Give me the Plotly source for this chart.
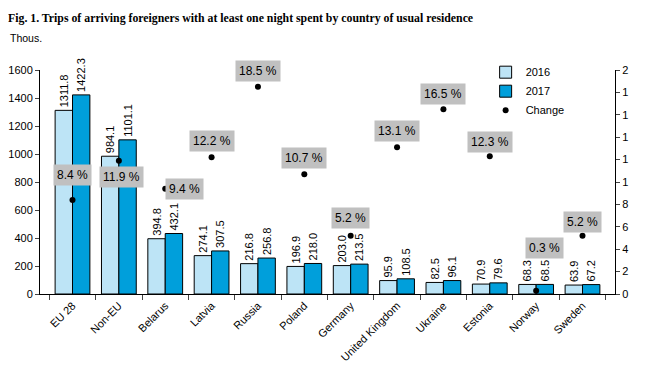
import plotly.graph_objects as go

countries = ["EU 28", "Non-EU", "Belarus", "Latvia", "Russia", "Poland", "Germany",
             "United Kingdom", "Ukraine", "Estonia", "Norway", "Sweden"]
trips_2016 = [1311.8, 984.1, 394.8, 274.1, 216.8, 196.9, 203.0, 95.9, 82.5, 70.9, 68.3, 63.9]
trips_2017 = [1422.3, 1101.1, 432.1, 307.5, 256.8, 218.0, 213.5, 108.5, 96.1, 79.6, 68.5, 67.2]
change_pct = [8.4, 11.9, 9.4, 12.2, 18.5, 10.7, 5.2, 13.1, 16.5, 12.3, 0.3, 5.2]
right_ticks = [0, 2, 4, 6, 8, 10, 12, 14, 16, 18, 20]
right_tick_text = ["0", "2", "4", "6", "8", "1", "1", "1", "1", "1", "2"]

# label offsets (px) for change annotations
label_dx = [0, 3, 19, 0, 0, 0, 0, 0, 0, 0, 8, 0]
label_dy = [25, -16, 0, 16, 16, 16, 18, 16, 15, 14, 43, 14]

FONT = "Liberation Sans, Arial, sans-serif"

fig = go.Figure()
fig.add_trace(go.Bar(
    x=countries, y=trips_2016, name="2016",
    marker=dict(color="#BDE4F6", line=dict(color="black", width=1)),
    text=[f"{v:.1f}" for v in trips_2016], textposition="outside", textangle=-90,
    constraintext="none",
    textfont=dict(family=FONT, size=11, color="black"), cliponaxis=False,
))
fig.add_trace(go.Bar(
    x=countries, y=trips_2017, name="2017",
    marker=dict(color="#009FDB", line=dict(color="black", width=1)),
    text=[f"{v:.1f}" for v in trips_2017], textposition="outside", textangle=-90,
    constraintext="none",
    textfont=dict(family=FONT, size=11, color="black"), cliponaxis=False,
))
fig.add_trace(go.Scatter(
    x=countries, y=change_pct, name="Change", mode="markers", yaxis="y2",
    marker=dict(color="black", size=6), cliponaxis=False,
))

for c, v, dx, dy in zip(countries, change_pct, label_dx, label_dy):
    fig.add_annotation(
        x=c, y=v, xref="x", yref="y2", text=f"{v} %", showarrow=False,
        xshift=dx, yshift=dy, bgcolor="#C0C0C0", borderpad=3,
        font=dict(family=FONT, size=12, color="black"),
    )

fig.add_annotation(
    x=-0.056, y=1.143, xref="paper", yref="paper", xanchor="left", yanchor="middle",
    text="Thous.", showarrow=False, font=dict(family=FONT, size=10.5, color="black"),
)

fig.update_layout(
    width=638, height=361,
    margin=dict(l=32, r=31, t=62, b=75, autoexpand=False),
    paper_bgcolor="white", plot_bgcolor="white",
    font=dict(family=FONT, size=11, color="black"),
    title=dict(
        text="<b>Fig. 1. Trips of arriving foreigners with at least one night spent by country of usual residence</b>",
        x=0.0, xanchor="left", y=0.985, yanchor="top",
        font=dict(family="Liberation Serif, serif", size=11.8, color="black"),
    ),
    barmode="group", bargap=0.25, bargroupgap=0,
    xaxis=dict(
        type="category", tickson="boundaries", ticks="outside", ticklen=5,
        tickangle=-45, showline=True, linecolor="black", linewidth=1,
        tickfont=dict(family=FONT, size=11), showgrid=False, automargin=False,
    ),
    yaxis=dict(
        range=[0, 1600], dtick=200, ticks="outside", ticklen=4,
        showline=True, linecolor="black", linewidth=1, showgrid=False, zeroline=False,
        tickfont=dict(family=FONT, size=11), automargin=False,
    ),
    yaxis2=dict(
        overlaying="y", side="right", range=[0, 20], tickvals=right_ticks,
        ticktext=right_tick_text, ticks="outside", ticklen=4,
        showline=True, linecolor="black", linewidth=1, showgrid=False, zeroline=False,
        tickfont=dict(family=FONT, size=11), automargin=False,
    ),
    legend=dict(
        x=0.775, y=1.055, xanchor="left", yanchor="top",
        font=dict(family=FONT, size=11), bgcolor="rgba(0,0,0,0)",
        itemwidth=30, tracegroupgap=0,
    ),
)

fig.write_html("out.html")
